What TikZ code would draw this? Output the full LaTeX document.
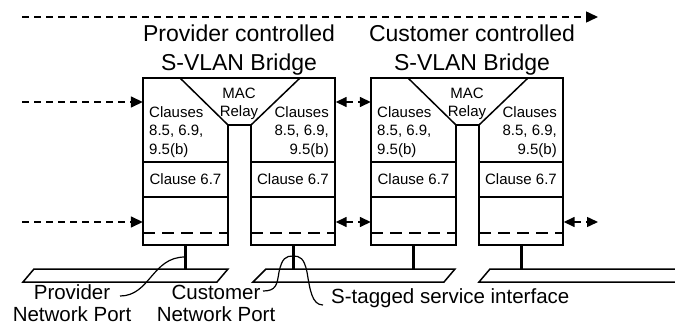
\documentclass[tikz,border=0pt]{standalone}
\usepackage{fontspec}
\setmainfont{Liberation Sans}
\usetikzlibrary{arrows.meta}
\begin{document}
\begin{tikzpicture}[x=1pt,y=-1pt,
  box/.style={line width=1.5pt, line join=miter},
  boxdash/.style={line width=1.5pt, dash pattern=on 12pt off 7pt},
  port/.style={draw=none, inner sep=0pt, minimum width=85pt, minimum height=167pt},
  darr/.style={line width=1.5pt, dash pattern=on 7pt off 5pt, -{Triangle[length=12pt,width=11pt]}},
  dboth/.style={line width=1.5pt, dash pattern=on 7pt off 5pt, {Triangle[length=11pt,width=10pt]}-{Triangle[length=11pt,width=10pt]}},
  stem/.style={line width=3pt},
  lan/.style={line width=1.5pt, line join=miter},
  callout/.style={line width=1.2pt},
  small/.style={inner sep=0pt, font={\fontsize{15}{18.5}\selectfont}},
  title/.style={inner sep=0pt, align=center, font={\fontsize{23}{29}\selectfont}},
  label/.style={inner sep=0pt, align=center, font={\fontsize{20.5}{22}\selectfont}}]
\useasboundingbox (0,0) rectangle (675,326);
\clip (0,0) rectangle (675,326);

% bridges
\foreach \x/\n in {143/1,371/2}{
  \begin{scope}[shift={(\x,0)}]
    \node[port] (pl\n) at (42.5,161.5) {};
    \node[port] (pr\n) at (150,161.5) {};
    \draw[box] (0,245) -- (0,78) -- (192,78) -- (192,245) -- (108,245) -- (108,125) -- (85,125) -- (85,245) -- cycle;
    \draw[box] (37,78) -- (85,125);
    \draw[box] (157,78) -- (108,125);
    \draw[box] (0,162) -- (85,162) (108,162) -- (192,162);
    \draw[box] (0,197) -- (85,197) (108,197) -- (192,197);
    \draw[boxdash] (0,233) -- (85,233) (108,233) -- (192,233);
    \node[small, align=center] (relay\n) at (96,104) {MAC\\Relay};
    \node[small, align=left, anchor=west] (cl\n) at (6,132) {Clauses\\8.5, 6.9,\\9.5(b)};
    \node[small, align=right, anchor=east] (cr\n) at (186,132) {Clauses\\8.5, 6.9,\\9.5(b)};
    \node[small] (sl\n) at (42.5,179.5) {Clause 6.7};
    \node[small] (sr\n) at (150,179.5) {Clause 6.7};
  \end{scope}
}

% titles
\node[title] (t1) at (239,50.5) {Provider controlled\\S-VLAN Bridge};
\node[title] (t2) at (472,50.5) {Customer controlled\\S-VLAN Bridge};

% arrows
\coordinate (top0) at (22,17);
\coordinate (top1) at (598,17);
\draw[darr] (top0) -- (top1);
\coordinate (a1) at (22,102);
\coordinate (a2) at (22,222);
\coordinate (a3) at (598,222);
\draw[darr] (a1) -- (a1 -| pl1.west);
\draw[darr] (a2) -- (a2 -| pl1.west);
\draw[dboth] (a1 -| pr1.east) -- (a1 -| pl2.west);
\draw[dboth] (a2 -| pr1.east) -- (a2 -| pl2.west);
\draw[dboth] (a2 -| pr2.east) -- (a3);

% LAN segments
\draw[lan] (34,269) -- (228,269) -- (217,282) -- (23,282) -- cycle;
\draw[lan] (266,269) -- (455,269) -- (444,282) -- (253,282) -- cycle;
\draw[lan] (490,269) -- (690,269) -- (679,282) -- (479,282) -- cycle;
\coordinate (lantop) at (0,269);
\draw[stem] (pl1.south) -- (pl1.south |- lantop);
\draw[stem] (pr1.south) -- (pr1.south |- lantop);
\draw[stem] (pl2.south) -- (pl2.south |- lantop);
\draw[stem] (pr2.south) -- (pr2.south |- lantop);

% labels
\node[label] (pnp) at (72,303.5) {Provider\\Network Port};
\node[label] (cnp) at (216,303.5) {Customer\\Network Port};
\node[label, anchor=base west] (sti) at (331,303) {S-tagged service interface};

% callouts
\coordinate (s1) at (185,257);
\coordinate (s2) at (293,256);
\coordinate (c1) at (120,296);
\coordinate (c2) at (263,291);
\coordinate (c3) at (323,305);
\draw[callout] (c1) .. controls (150,296) and (152,257) .. (s1);
\draw[callout] (c2) .. controls (276,291) and (277,285) .. (279,272) .. controls (282,258) and (286,256) .. (s2);
\draw[callout] (s2) .. controls (300,256) and (304,258) .. (307,272) .. controls (310,290) and (312,305) .. (c3);
\end{tikzpicture}
\end{document}
